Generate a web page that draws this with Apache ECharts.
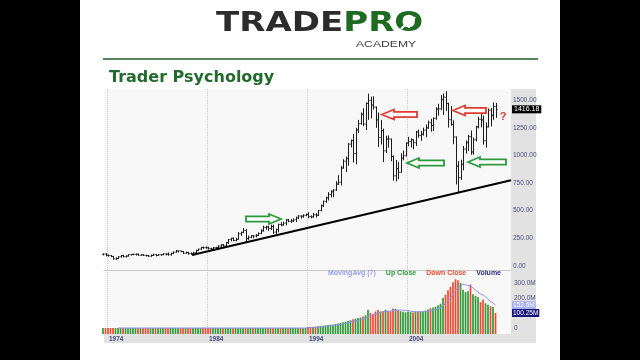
<!DOCTYPE html>
<html>
<head>
<meta charset="utf-8">
<script src="https://cdn.jsdelivr.net/npm/echarts@6/dist/echarts.min.js"></script>
<style>
  body { margin: 0; background: #000; }
  #slide { position: absolute; left: 80px; top: 0; width: 480px; height: 360px; background: #fff; }
  #main { position: absolute; left: 0; top: 0; width: 640px; height: 360px; }
</style>
</head>
<body>
<div id="slide"></div>
<div id="main"></div>
<script>
  // quarterly S&P 500 bars, 1973 Q3 .. 2012 Q4 (one line per year)
  const firstQuarter = 1973.5;

  const opens = [
    104.26, 108.43,
    97.55, 93.98, 86.00, 63.54,
    68.56, 83.36, 95.19, 83.87,
    90.19, 102.77, 104.28, 105.24,
    107.46, 98.42, 100.48, 96.53,
    95.10, 89.21, 95.53, 102.54,
    96.11, 101.59, 102.91, 109.32,
    107.94, 102.09, 114.24, 125.46,
    135.76, 136.00, 131.21, 116.18,
    122.55, 111.96, 109.61, 120.42,
    140.64, 152.96, 168.11, 166.07,
    164.93, 159.18, 153.18, 166.10,
    167.24, 180.66, 191.85, 182.08,
    211.28, 238.90, 250.84, 231.32,
    242.17, 291.70, 304.00, 321.83,
    247.08, 258.89, 273.50, 271.91,
    277.72, 294.87, 317.98, 349.15,
    353.40, 339.94, 358.02, 306.05,
    330.22, 375.22, 371.16, 387.86,
    417.09, 403.69, 408.14, 417.80,
    435.71, 451.67, 450.53, 458.93,
    466.45, 445.77, 444.27, 462.69,
    459.27, 500.71, 544.75, 584.41,
    615.93, 645.50, 670.63, 687.31,
    740.74, 757.12, 885.14, 947.28,
    970.43, 1101.75, 1133.84, 1017.01,
    1229.23, 1286.37, 1372.71, 1282.71,
    1469.25, 1498.58, 1454.60, 1436.51,
    1320.28, 1160.33, 1224.42, 1040.94,
    1148.08, 1147.39, 989.82, 815.28,
    879.82, 848.18, 974.50, 995.97,
    1111.92, 1126.21, 1140.84, 1114.58,
    1211.92, 1180.59, 1191.33, 1228.81,
    1248.29, 1294.83, 1270.20, 1335.85,
    1418.30, 1420.86, 1503.35, 1526.75,
    1468.36, 1322.70, 1280.00, 1166.36,
    903.25, 797.87, 919.32, 1057.08,
    1115.10, 1169.43, 1030.71, 1141.20,
    1257.64, 1325.83, 1320.64, 1131.42,
    1257.60, 1408.47, 1362.16, 1440.67
  ];
  const highs = [
    109.0, 111.8,
    99.8, 94.0, 87.0, 73.0,
    84.0, 95.6, 96.0, 92.0,
    103.5, 104.5, 107.8, 107.8,
    107.0, 101.0, 100.5, 97.0,
    95.0, 100.0, 107.0, 103.0,
    102.0, 103.0, 110.0, 110.0,
    118.0, 116.0, 127.0, 140.5,
    137.0, 135.0, 131.0, 126.0,
    123.0, 119.0, 124.0, 143.0,
    153.0, 169.0, 170.0, 172.7,
    169.0, 161.0, 168.0, 169.0,
    183.0, 192.0, 193.0, 212.0,
    239.0, 251.0, 254.0, 250.0,
    302.0, 306.0, 337.9, 328.0,
    271.0, 274.0, 274.0, 284.0,
    300.0, 327.0, 360.0, 360.0,
    360.0, 369.0, 369.8, 333.0,
    379.0, 391.0, 396.0, 419.0,
    421.0, 419.0, 426.0, 442.0,
    456.0, 453.0, 463.0, 470.0,
    482.0, 454.0, 476.0, 474.0,
    503.0, 551.0, 586.0, 623.0,
    664.0, 681.0, 690.0, 762.0,
    817.0, 899.0, 961.0, 986.0,
    1106.0, 1139.0, 1190.0, 1245.0,
    1316.0, 1383.0, 1421.0, 1474.0,
    1552.9, 1527.0, 1530.0, 1437.0,
    1383.0, 1316.0, 1238.0, 1173.0,
    1176.0, 1147.0, 994.0, 954.0,
    935.0, 1015.0, 1040.0, 1112.0,
    1163.0, 1150.0, 1140.0, 1217.0,
    1229.0, 1217.0, 1246.0, 1275.0,
    1310.0, 1326.0, 1340.0, 1431.0,
    1461.0, 1540.0, 1555.0, 1576.0,
    1471.0, 1440.0, 1313.0, 1167.0,
    943.0, 956.0, 1080.0, 1130.0,
    1181.0, 1219.8, 1157.0, 1263.0,
    1344.0, 1370.6, 1356.0, 1292.7,
    1419.0, 1422.4, 1474.5, 1470.0
  ];
  const lows = [
    100.5, 92.2,
    89.5, 85.5, 62.3, 62.0,
    68.0, 80.0, 82.0, 82.5,
    90.0, 98.5, 102.5, 98.8,
    98.0, 97.5, 95.8, 90.0,
    86.9, 88.5, 95.0, 92.5,
    96.0, 98.0, 102.0, 99.8,
    98.2, 98.0, 113.0, 124.5,
    126.0, 129.0, 112.8, 115.5,
    107.3, 107.0, 101.4, 120.0,
    138.0, 150.0, 160.0, 161.0,
    154.0, 147.8, 150.0, 160.0,
    163.7, 177.0, 180.0, 181.0,
    203.5, 228.0, 228.0, 228.0,
    242.0, 278.0, 302.0, 216.5,
    240.0, 256.0, 256.0, 264.0,
    275.0, 292.0, 316.0, 332.0,
    322.0, 330.0, 295.5, 294.5,
    309.0, 365.0, 370.0, 372.0,
    400.0, 394.0, 404.0, 402.0,
    428.0, 433.0, 441.0, 455.0,
    436.0, 435.0, 442.0, 444.0,
    457.0, 499.0, 539.0, 576.0,
    597.0, 624.0, 626.0, 684.0,
    737.0, 733.0, 885.0, 855.0,
    912.0, 1076.0, 940.0, 923.0,
    1205.0, 1282.0, 1268.0, 1233.0,
    1325.0, 1339.0, 1419.0, 1254.0,
    1081.0, 1103.0, 944.8, 1026.0,
    1074.0, 952.0, 775.7, 768.6,
    788.9, 847.0, 960.0, 995.0,
    1087.0, 1076.0, 1060.0, 1090.0,
    1163.0, 1137.0, 1183.0, 1168.0,
    1245.0, 1219.0, 1224.0, 1327.0,
    1364.0, 1416.0, 1370.0, 1406.0,
    1256.0, 1272.0, 1106.0, 741.0,
    666.8, 783.0, 869.0, 1020.0,
    1044.0, 1010.0, 1010.9, 1131.0,
    1249.0, 1258.0, 1101.5, 1074.8,
    1258.0, 1266.7, 1325.4, 1343.4
  ];
  const closes = [
    108.43, 97.55,
    93.98, 86.00, 63.54, 68.56,
    83.36, 95.19, 83.87, 90.19,
    102.77, 104.28, 105.24, 107.46,
    98.42, 100.48, 96.53, 95.10,
    89.21, 95.53, 102.54, 96.11,
    101.59, 102.91, 109.32, 107.94,
    102.09, 114.24, 125.46, 135.76,
    136.00, 131.21, 116.18, 122.55,
    111.96, 109.61, 120.42, 140.64,
    152.96, 168.11, 166.07, 164.93,
    159.18, 153.18, 166.10, 167.24,
    180.66, 191.85, 182.08, 211.28,
    238.90, 250.84, 231.32, 242.17,
    291.70, 304.00, 321.83, 247.08,
    258.89, 273.50, 271.91, 277.72,
    294.87, 317.98, 349.15, 353.40,
    339.94, 358.02, 306.05, 330.22,
    375.22, 371.16, 387.86, 417.09,
    403.69, 408.14, 417.80, 435.71,
    451.67, 450.53, 458.93, 466.45,
    445.77, 444.27, 462.69, 459.27,
    500.71, 544.75, 584.41, 615.93,
    645.50, 670.63, 687.31, 740.74,
    757.12, 885.14, 947.28, 970.43,
    1101.75, 1133.84, 1017.01, 1229.23,
    1286.37, 1372.71, 1282.71, 1469.25,
    1498.58, 1454.60, 1436.51, 1320.28,
    1160.33, 1224.42, 1040.94, 1148.08,
    1147.39, 989.82, 815.28, 879.82,
    848.18, 974.50, 995.97, 1111.92,
    1126.21, 1140.84, 1114.58, 1211.92,
    1180.59, 1191.33, 1228.81, 1248.29,
    1294.83, 1270.20, 1335.85, 1418.30,
    1420.86, 1503.35, 1526.75, 1468.36,
    1322.70, 1280.00, 1166.36, 903.25,
    797.87, 919.32, 1057.08, 1115.10,
    1169.43, 1030.71, 1141.20, 1257.64,
    1325.83, 1320.64, 1131.42, 1257.60,
    1408.47, 1362.16, 1440.67, 1416.18
  ];
  // volume in millions (no volume data before 1994)
  const volumes = [
    0, 0,
    0, 0, 0, 0,  0, 0, 0, 0,  0, 0, 0, 0,  0, 0, 0, 0,  0, 0, 0, 0,
    0, 0, 0, 0,  0, 0, 0, 0,  0, 0, 0, 0,  0, 0, 0, 0,  0, 0, 0, 0,
    0, 0, 0, 0,  0, 0, 0, 0,  0, 0, 0, 0,  0, 0, 0, 0,  0, 0, 0, 0,
    0, 0, 0, 0,  0, 0, 0, 0,  0, 0, 0, 0,  0, 0, 0, 0,  0, 0, 0, 0,
    6, 7, 8, 9,
    11, 13, 15, 17,
    20, 22, 24, 27,
    30, 34, 38, 42,
    47, 52, 58, 62,
    66, 70, 76, 85,
    122, 100, 92, 110,
    120, 110, 112, 122,
    113, 112, 130, 128,
    120, 112, 108, 105,
    110, 106, 104, 110,
    112, 110, 110, 116,
    124, 132, 136, 142,
    152, 162, 200, 222,
    252, 275, 305, 325,
    318, 300, 255, 240,
    245, 290, 225, 215,
    205, 173, 190, 165,
    155, 145, 140, 100.25
  ];
  const trendLine = [[1982.5, 99], [2014.4, 776]];
  const yearTicks = [1974, 1984, 1994, 2004];
  const priceTicks = [0, 250, 500, 750, 1000, 1250, 1500];
  const volumeTicks = [0, 100, 200, 300];
  const maPeriod = 7;

  const xs = closes.map((c, i) => firstQuarter + i * 0.25 + 0.1);
  const ohlc = closes.map((c, i) => [xs[i], opens[i], highs[i], lows[i], c]);
  const upVol = [], downVol = [];
  volumes.forEach((v, i) => {
    (closes[i] >= opens[i] ? upVol : downVol).push([xs[i], v]);
  });
  const maVol = [];
  for (let i = maPeriod - 1; i < volumes.length; i++) {
    let s = 0;
    for (let k = i - maPeriod + 1; k <= i; k++) s += volumes[k];
    maVol.push([xs[i], s / maPeriod]);
  }
  const lastMa = maVol[maVol.length - 1][1];
  const lastVol = volumes[volumes.length - 1];
  const lastClose = closes[closes.length - 1];
  const volMin = -40;

  const labelFont = 'Liberation Sans';

  function renderBar(params, api) {
    const x = api.value(0);
    const pO = api.coord([x, api.value(1)]);
    const pH = api.coord([x, api.value(2)]);
    const pL = api.coord([x, api.value(3)]);
    const pC = api.coord([x, api.value(4)]);
    const cx = Math.round(pH[0]) + 0.5;
    const st = { stroke: '#1c1c1c', lineWidth: 1 };
    return {
      type: 'group',
      children: [
        { type: 'line', shape: { x1: cx, y1: pH[1] - 0.5, x2: cx, y2: pL[1] + 0.5 }, style: st },
        { type: 'line', shape: { x1: cx - 1.2, y1: pO[1], x2: cx, y2: pO[1] }, style: st },
        { type: 'line', shape: { x1: cx, y1: pC[1], x2: cx + 1.2, y2: pC[1] }, style: st }
      ]
    };
  }

  function volRenderer(color) {
    return function (params, api) {
      const x = api.value(0);
      const top = api.coord([x, api.value(1)]);
      const base = api.coord([x, volMin]);
      const w = 1.7;
      return {
        type: 'rect',
        shape: { x: top[0] - w / 2, y: top[1], width: w, height: base[1] - top[1] },
        style: { fill: color }
      };
    };
  }

  // last value tag at the right edge of a panel
  function valueTag(value, text, bg) {
    return {
      silent: true, symbol: ['none', 'none'],
      lineStyle: { color: 'transparent', width: 1 },
      label: {
        show: true, position: 'end', distance: 1, formatter: text,
        color: '#fff', backgroundColor: bg, padding: [1, 1, 0, 1],
        fontSize: 6.5, fontFamily: labelFont
      },
      emphasis: { disabled: true },
      data: [{ yAxis: value }]
    };
  }

  // hollow block arrow
  function arrow(tipX, y, tailX, color) {
    const dir = tailX > tipX ? 1 : -1;
    const head = 12 * dir, hh = 5, bh = 2.6;
    return {
      type: 'polygon', z: 20,
      shape: { points: [
        [tipX, y], [tipX + head, y - hh], [tipX + head, y - bh], [tailX, y - bh],
        [tailX, y + bh], [tipX + head, y + bh], [tipX + head, y + hh]
      ] },
      style: { fill: '#fff', stroke: color, lineWidth: 1.8 }
    };
  }

  const RED = '#e3392f', GREEN = '#2a9a3c';

  const chart = echarts.init(document.getElementById('main'));
  chart.setOption({
    animation: false,
    grid: [
      { left: 104, right: 129, top: 89, height: 181, show: true, backgroundColor: '#f8f8f8', borderWidth: 0 },
      { left: 104, right: 129, top: 270, height: 64, show: true, backgroundColor: '#f8f8f8', borderWidth: 0 }
    ],
    legend: {
      right: 139, top: 270, padding: 0, icon: 'none', itemWidth: 0, itemHeight: 6, itemGap: 5,
      selectedMode: false,
      textStyle: { fontSize: 7, fontWeight: 'bold', fontFamily: labelFont },
      data: [
        { name: 'MovingAvg (7)', textStyle: { color: '#9a9cf0' } },
        { name: 'Up Close', textStyle: { color: '#2f9a3a' } },
        { name: 'Down Close', textStyle: { color: '#ee4a32' } },
        { name: 'Volume', textStyle: { color: '#2c2c7e' } }
      ]
    },
    xAxis: [
      {
        type: 'value', gridIndex: 0, min: 1973.7, max: 2014.4,
        axisLine: { show: true, onZero: false, lineStyle: { color: '#c8c8c8' } },
        axisTick: { show: false, customValues: yearTicks },
        axisLabel: { show: false, customValues: yearTicks },
        splitLine: { show: true, lineStyle: { type: 'dotted', color: '#cccccc' } }
      },
      {
        type: 'value', gridIndex: 1, min: 1973.7, max: 2014.4,
        axisLine: { show: false },
        axisTick: { show: false, customValues: yearTicks },
        axisLabel: {
          customValues: yearTicks, margin: 2, align: 'left', padding: [0, 0, 0, 2],
          fontSize: 6.5, fontWeight: 'bold', fontFamily: labelFont, color: '#45457c',
          formatter: v => String(v)
        },
        splitLine: { show: true, lineStyle: { type: 'dotted', color: '#cccccc' } }
      }
    ],
    yAxis: [
      {
        type: 'value', gridIndex: 0, position: 'right', min: -36, max: 1600,
        axisLine: { show: false }, splitLine: { show: false },
        axisTick: { show: false, customValues: priceTicks },
        axisLabel: {
          customValues: priceTicks, margin: 2, fontSize: 6.5, fontFamily: labelFont, color: '#4d4d80',
          formatter: v => v.toFixed(2)
        }
      },
      {
        type: 'value', gridIndex: 1, position: 'right', min: volMin, max: 387,
        axisLine: { show: false }, splitLine: { show: false },
        axisTick: { show: false, customValues: volumeTicks },
        axisLabel: {
          customValues: volumeTicks, margin: 3, fontSize: 6.5, fontFamily: labelFont, color: '#4d4d80',
          formatter: v => (v === 0 ? '0' : v.toFixed(1) + 'M')
        }
      }
    ],
    series: [
      {
        name: 'Price', type: 'custom', xAxisIndex: 0, yAxisIndex: 0,
        renderItem: renderBar, data: ohlc, encode: { x: 0, y: [1, 2, 3, 4] }, silent: true
      },
      {
        name: 'Trend', type: 'line', xAxisIndex: 0, yAxisIndex: 0, data: trendLine,
        showSymbol: false, silent: true, z: 5,
        lineStyle: { color: '#000', width: 2 },
        markLine: Object.assign(valueTag(lastClose, lastClose.toFixed(2), '#000'), {
          label: {
            show: true, position: 'end', distance: 1, formatter: lastClose.toFixed(2),
            color: '#fff', backgroundColor: '#000', padding: [1, 2, 0, 2], fontSize: 7, fontFamily: labelFont
          }
        })
      },
      {
        name: 'Up Close', type: 'custom', xAxisIndex: 1, yAxisIndex: 1, silent: true,
        renderItem: volRenderer('#2f9a3a'), data: upVol, encode: { x: 0, y: 1 }
      },
      {
        name: 'Down Close', type: 'custom', xAxisIndex: 1, yAxisIndex: 1, silent: true,
        renderItem: volRenderer('#ee4a32'), data: downVol, encode: { x: 0, y: 1 }
      },
      {
        name: 'MovingAvg (7)', type: 'line', xAxisIndex: 1, yAxisIndex: 1, data: maVol,
        showSymbol: false, silent: true, z: 4,
        lineStyle: { color: '#8f91ee', width: 1 },
        markLine: valueTag(lastMa, lastMa.toFixed(1) + 'M', '#a9b0f2')
      },
      {
        name: 'Volume', type: 'line', xAxisIndex: 1, yAxisIndex: 1,
        data: [[xs[xs.length - 1], lastVol]], showSymbol: false, silent: true, z: 6,
        lineStyle: { color: '#2c2c7e', width: 0 },
        markLine: valueTag(lastVol, lastVol.toFixed(2) + 'M', '#16167a')
      }
    ],
    graphic: [
      // axis side panels
      { type: 'rect', z: -1, shape: { x: 511, y: 89, width: 25, height: 254 }, style: { fill: '#e2e2e2' } },
      { type: 'rect', z: -1, shape: { x: 104, y: 334, width: 432, height: 9 }, style: { fill: '#e2e2e2' } },
      // logo
      {
        type: 'text', x: 216, y: 24, scaleX: 1.26,
        style: {
          text: '{a|TRADE}{b|PRO}', textVerticalAlign: 'middle',
          rich: {
            a: { fontFamily: 'DejaVu Sans', fontWeight: 'bold', fontSize: 27, fill: '#2c2c2c' },
            b: { fontFamily: 'DejaVu Sans', fontWeight: 'bold', fontSize: 27, fill: '#1d6a22' }
          }
        }
      },
      {
        type: 'polyline', z: 5,
        shape: { points: [[401, 29], [406, 24], [409, 27], [415, 17]] },
        style: { stroke: '#fff', lineWidth: 2, fill: null }
      },
      {
        type: 'text', x: 356, y: 44, scaleX: 1.28,
        style: { text: 'ACADEMY', textVerticalAlign: 'middle', font: '9.5px "Liberation Sans"', fill: '#3a3a3a' }
      },
      { type: 'line', shape: { x1: 103, y1: 59, x2: 538, y2: 59 }, style: { stroke: '#1e5e22', lineWidth: 1.5 } },
      {
        type: 'text', x: 109, y: 78,
        style: { text: 'Trader Psychology', textVerticalAlign: 'middle', font: 'bold 16px "DejaVu Sans"', fill: '#236a2d' }
      },
      // annotations
      arrow(382, 114.5, 417, RED),
      arrow(453, 110.5, 486, RED),
      arrow(407, 163, 444, GREEN),
      arrow(468, 162, 506, GREEN),
      arrow(281, 219, 246, GREEN),
      {
        type: 'text', x: 503, y: 117, z: 20,
        style: { text: '?', textAlign: 'center', textVerticalAlign: 'middle', font: 'bold 11px "Liberation Sans"', fill: RED }
      }
    ]
  });
</script>
</body>
</html>
